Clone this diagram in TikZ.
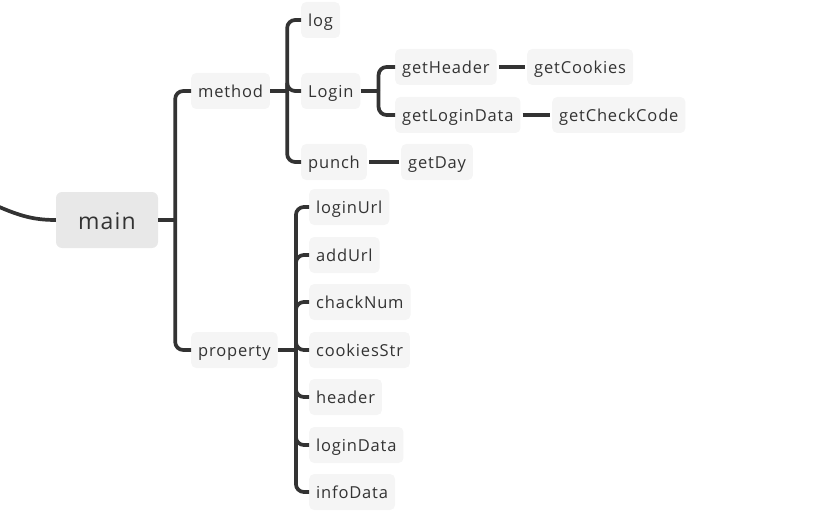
\documentclass[tikz,border=0pt]{standalone}
\usepackage{fontspec}
\setmainfont{Open Sans}[LetterSpace=5]
\definecolor{inkgray}{RGB}{51, 51, 51}
\definecolor{topicfill}{RGB}{245, 245, 245}
\definecolor{rootfill}{RGB}{232, 232, 232}
\usetikzlibrary{positioning}

\begin{document}
\begin{tikzpicture}[x=1pt, y=-1pt,
  topic/.style={fill=topicfill, rounded corners=5pt, text=inkgray, font=\fontsize{16.5}{19}\selectfont, text height=13pt, text depth=0pt, minimum height=36pt, inner xsep=7pt, anchor=west},
  root/.style={fill=rootfill, rounded corners=6pt, text=inkgray, font=\fontsize{23}{27}\selectfont, text height=18pt, text depth=0pt, minimum height=56pt, minimum width=102pt},
  branch/.style={draw=inkgray, line width=3.7pt, rounded corners=8pt}]
  \useasboundingbox (0,0) rectangle (819,524);
  % root
  \node[root] (main) at (107,220) {main};
  % first level
  \node[topic] (method) at (191,91) {method};
  \node[topic] (property) at (191,350) {property};
  % method children
  \node[topic] (log) at (301,20) {log};
  \node[topic] (login) at (301,91) {Login};
  \node[topic] (punch) at (301,162) {punch};
  \node[topic] (getheader) at (395,67) {getHeader};
  \node[topic] (getlogindata) at (395,115) {getLoginData};
  \node[topic] (getcookies) at (527,67) {getCookies};
  \node[topic] (getcheckcode) at (552,115) {getCheckCode};
  \node[topic] (getday) at (401,162) {getDay};
  % property children
  \node[topic] (loginurl) at (309,207) {loginUrl};
  \node[topic] (addurl) at (309,255) {addUrl};
  \node[topic] (chacknum) at (309,302) {chackNum};
  \node[topic] (cookiesstr) at (309,350) {cookiesStr};
  \node[topic] (header) at (309,397) {header};
  \node[topic] (logindata) at (309,445) {loginData};
  \node[topic] (infodata) at (309,492) {infoData};

  % connectors
  \coordinate (parent) at (-3,206);
  \draw[branch, rounded corners=0pt] (parent) .. controls (20,216) and (34,220) .. (main.west);
  \draw[branch] (main.east) -- ++(17,0) coordinate (mainjoint);
  \draw[branch] (mainjoint) |- (method.west);
  \draw[branch] (mainjoint) |- (property.west);
  \draw[branch] (method.east) -- ++(17,0) coordinate (methodjoint);
  \foreach \child in {log, login, punch}
    \draw[branch] (methodjoint) |- (\child.west);
  \draw[branch] (login.east) -- ++(18,0) coordinate (loginjoint);
  \foreach \child in {getheader, getlogindata}
    \draw[branch] (loginjoint) |- (\child.west);
  \draw[branch] ([xshift=2pt]getheader.east) -- ([xshift=-2pt]getcookies.west);
  \draw[branch] ([xshift=2pt]getlogindata.east) -- ([xshift=-2pt]getcheckcode.west);
  \draw[branch] ([xshift=2pt]punch.east) -- ([xshift=-2pt]getday.west);
  \draw[branch] (property.east) -- ++(18,0) coordinate (propjoint);
  \foreach \child in {loginurl, addurl, chacknum, cookiesstr, header, logindata, infodata}
    \draw[branch] (propjoint) |- (\child.west);
\end{tikzpicture}
\end{document}
